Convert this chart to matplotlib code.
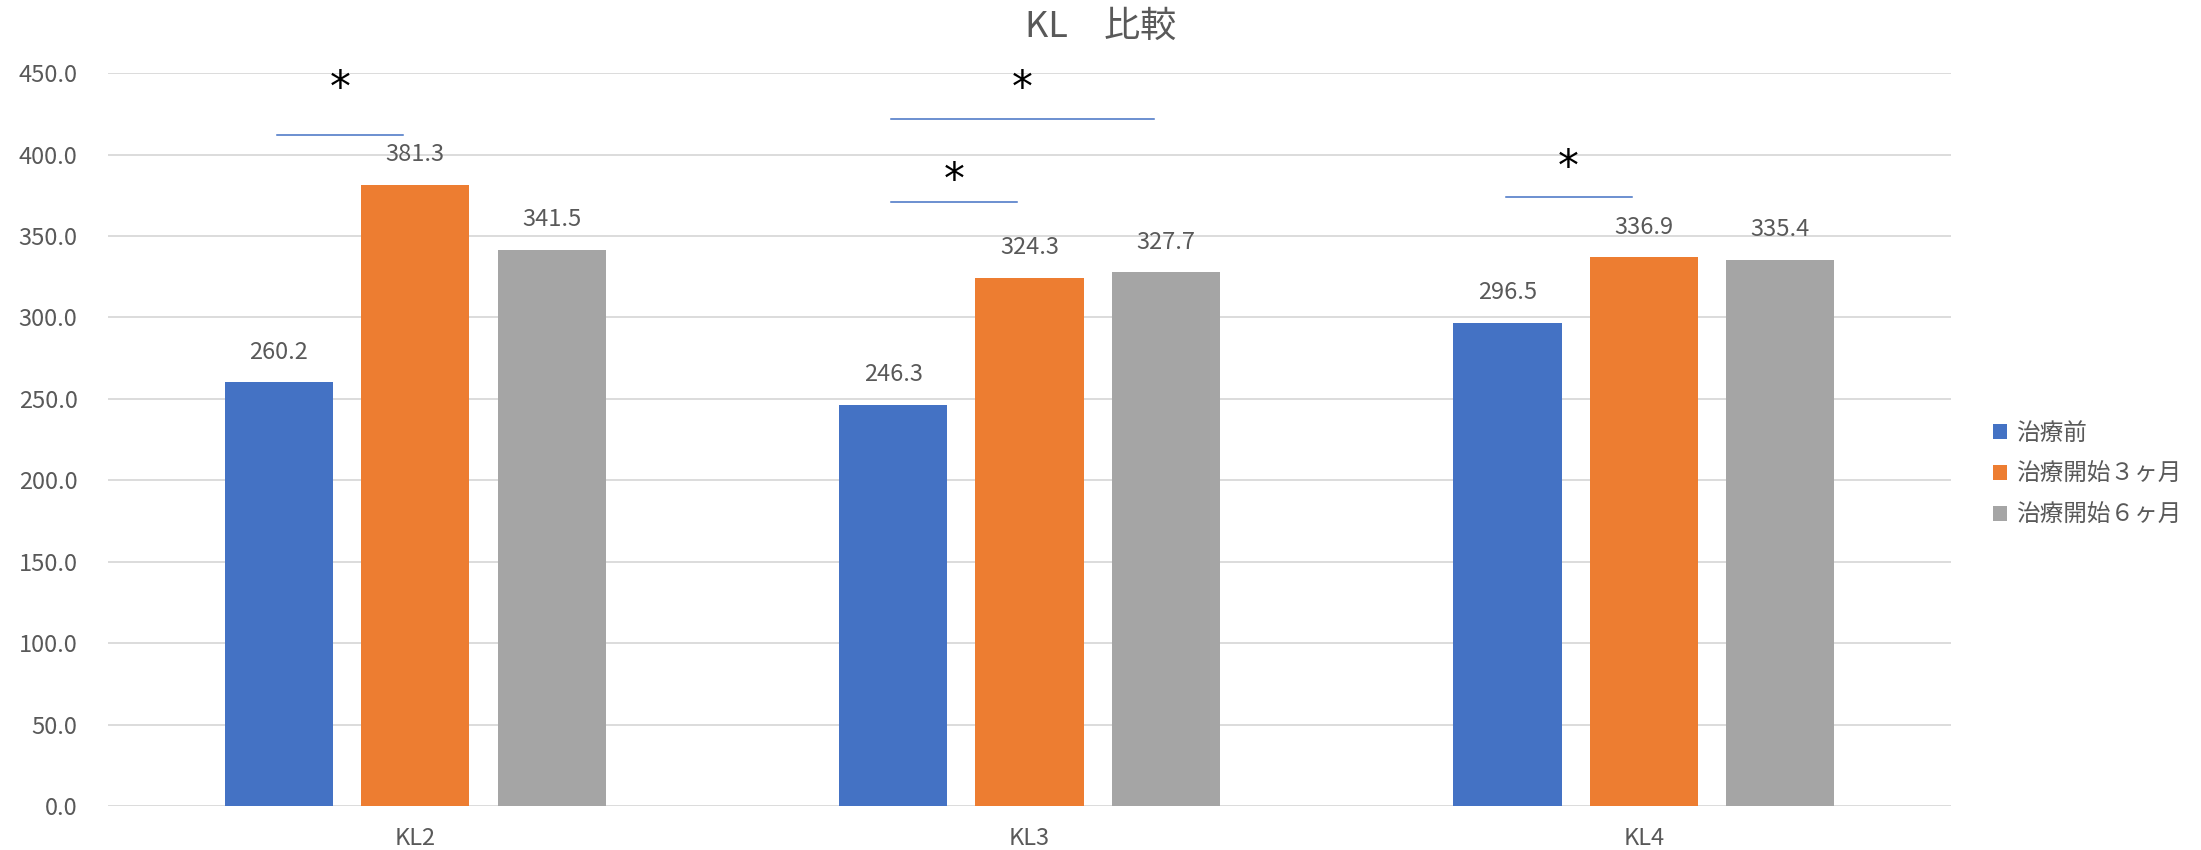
import matplotlib
matplotlib.use("Agg")
import matplotlib.pyplot as plt
import numpy as np

plt.rcParams['font.family'] = ['Noto Sans CJK JP', 'DejaVu Sans']

# ---------------- data ----------------
categories = ['KL2', 'KL3', 'KL4']
series_names = ['治療前', '治療開始３ヶ月', '治療開始６ヶ月']
before = [260.2, 246.3, 296.5]
month3 = [381.3, 324.3, 336.9]
month6 = [341.5, 327.7, 335.4]
colors = ['#4472C4', '#ED7D31', '#A5A5A5']

# significance marks: (category index, from series, to series, line level, star level)
sig_pairs = [
    (0, 0, 1, 412, 440),
    (1, 0, 2, 422, 440),
    (1, 0, 1, 371, 384),
    (2, 0, 1, 374, 392),
]

text_col = '#595959'

fig = plt.figure(figsize=(22.01, 8.5), dpi=100)
ax = fig.add_axes([0.0491, 0.0518, 0.8373, 0.8622])

x = np.arange(len(categories))
width = 0.176
step = 0.222
all_series = [before, month3, month6]

for i, (vals, name) in enumerate(zip(all_series, series_names)):
    pos = x + (i - 1) * step
    bars = ax.bar(pos, vals, width, color=colors[i], label=name, zorder=3)
    for b, v in zip(bars, vals):
        ax.annotate('%.1f' % v, (b.get_x() + b.get_width() / 2, v),
                    xytext=(0, 17), textcoords='offset points',
                    ha='center', va='baseline', fontsize=17, color=text_col)

# lines with stars (from centre of first bar to just before centre of second)
for cat, s1, s2, ly, sy in sig_pairs:
    x1 = cat + (s1 - 1) * step - 0.003
    x2 = cat + (s2 - 1) * step - 0.02
    ax.plot([x1, x2], [ly, ly], color='#4472C4', lw=1.1, zorder=4)
    ax.text((x1 + x2) / 2, sy, '*', ha='center', va='center',
            fontsize=30, color='black', family='DejaVu Sans')

ax.set_xlim(-0.5, len(categories) - 0.5)
ax.set_ylim(0, 450)
ax.set_yticks(np.arange(0, 451, 50))
ax.set_yticklabels(['%.1f' % t for t in np.arange(0, 451, 50)])
ax.set_xticks(x)
ax.set_xticklabels(categories)
ax.tick_params(axis='both', length=0, labelsize=17, labelcolor=text_col)
ax.tick_params(axis='x', pad=15)
ax.tick_params(axis='y', pad=22)
ax.grid(axis='y', color='#d9d9d9', lw=1.3, zorder=0)
for s in ax.spines.values():
    s.set_visible(False)

fig.text(0.5, 1 - 27 / 850, 'KL\u3000比較', fontsize=26, color=text_col,
         ha='center', va='center')

fig.legend(loc='center left', bbox_to_anchor=(0.9, 0.442), frameon=False,
           fontsize=17, labelcolor=text_col, handlelength=0.6,
           handleheight=0.6, handletextpad=0.4, labelspacing=0.75,
           borderpad=0)

fig.savefig('out.png', dpi=100)
